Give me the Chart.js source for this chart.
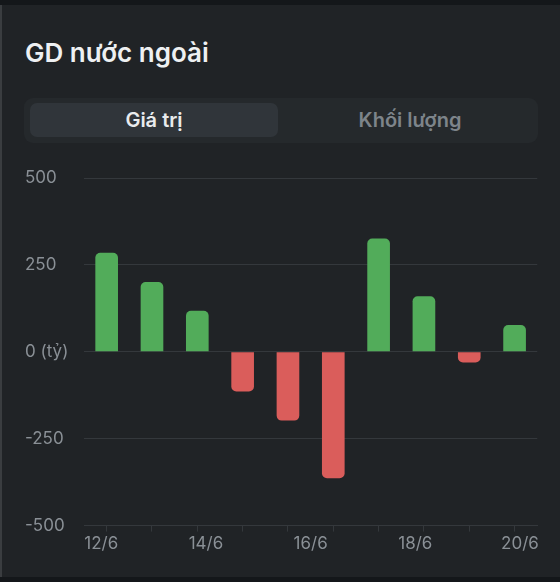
<!DOCTYPE html>
<html>
<head>
<meta charset="utf-8">
<script src="https://cdn.jsdelivr.net/npm/chart.js@4/dist/chart.umd.min.js"></script>
<style>
  html, body { margin: 0; padding: 0; background: #14171a; }
  body { width: 560px; height: 582px; position: relative; overflow: hidden; font-family: Inter, "Noto Sans", sans-serif; }
  .panel { position: absolute; left: 0; top: 5px; width: 558px; height: 572px; background: #202326; border-left: 2px solid #3a3d40; }
  .title { position: absolute; left: 23px; top: 32px; font-size: 26px; font-weight: 600; color: #eef0f2; }
  .tabs { position: absolute; left: 22px; top: 93px; width: 514px; height: 45px; border-radius: 9px; background: #25292c; }
  .tab { position: absolute; top: 5px; height: 34px; width: 248px; line-height: 34px; text-align: center; font-size: 20px; font-weight: 600; border-radius: 7px; }
  .tab.on { left: 6px; background: #30353a; color: #e9ebed; }
  .tab.off { left: 262px; color: #7d848a; }
  .wrap { position: absolute; left: 23px; top: 155px; width: 516px; height: 396px; }
</style>
</head>
<body>
<div class="panel">
  <div class="title">GD nước ngoài</div>
  <div class="tabs">
    <div class="tab on">Giá trị</div>
    <div class="tab off">Khối lượng</div>
  </div>
  <div class="wrap"><canvas id="chart"></canvas></div>
</div>
<script>
// Net foreign trading value per day (tỷ)
const days = ['12/6', '13/6', '14/6', '15/6', '16/6', '17/6', '18/6', '19/6', '20/6', '21/6'];
const values = [285, 201, 118, -114, -198, -364, 326, 160, -31, 77];
const dateLabels = ['12/6', '14/6', '16/6', '18/6', '20/6'];
const yTicks = [-500, -250, 0, 250, 500];

const green = '#52ac5a';
const red = '#da5d5b';
const tickColor = '#8a9096';
const gridColor = '#34383c';

const ctx = document.getElementById('chart').getContext('2d');
new Chart(ctx, {
  type: 'bar',
  data: {
    labels: days,
    datasets: [{
      data: values,
      backgroundColor: values.map(v => v >= 0 ? green : red),
      borderRadius: c => c.raw >= 0
        ? { topLeft: 5, topRight: 5, bottomLeft: 0, bottomRight: 0 }
        : { topLeft: 0, topRight: 0, bottomLeft: 5, bottomRight: 5 },
      borderSkipped: false,
      barPercentage: 0.5,
      categoryPercentage: 1
    }]
  },
  options: {
    responsive: true,
    maintainAspectRatio: false,
    animation: false,
    layout: { padding: { top: 18, right: 0, bottom: 0, left: 0 } },
    plugins: { legend: { display: false }, tooltip: { enabled: false } },
    scales: {
      x: {
        offset: true,
        border: { color: gridColor },
        grid: { display: true, offset: false, drawOnChartArea: false, color: gridColor, tickLength: 6 },
        ticks: { display: false }
      },
      x2: {
        type: 'linear',
        position: 'bottom',
        offset: false,
        min: -0.165,
        max: 4.165,
        border: { display: false },
        grid: { display: false, offset: false, drawTicks: false },
        afterBuildTicks: axis => { axis.ticks = dateLabels.map((_, i) => ({ value: i })); },
        ticks: {
          color: tickColor,
          font: { family: 'Inter', size: 17 },
          padding: 2,
          maxRotation: 0,
          autoSkip: false,
          callback: v => dateLabels[v]
        }
      },
      y: {
        min: -500,
        max: 500,
        border: { display: false },
        grid: { color: gridColor, drawTicks: false },
        afterBuildTicks: axis => { axis.ticks = yTicks.map(v => ({ value: v })); },
        afterFit: axis => { axis.width = 59; },
        ticks: {
          color: tickColor,
          font: { family: 'Inter', size: 17 },
          padding: 0,
          crossAlign: 'far',
          callback: v => v === 0 ? '0 (tỷ)' : String(v)
        }
      }
    }
  }
});
</script>
</body>
</html>
